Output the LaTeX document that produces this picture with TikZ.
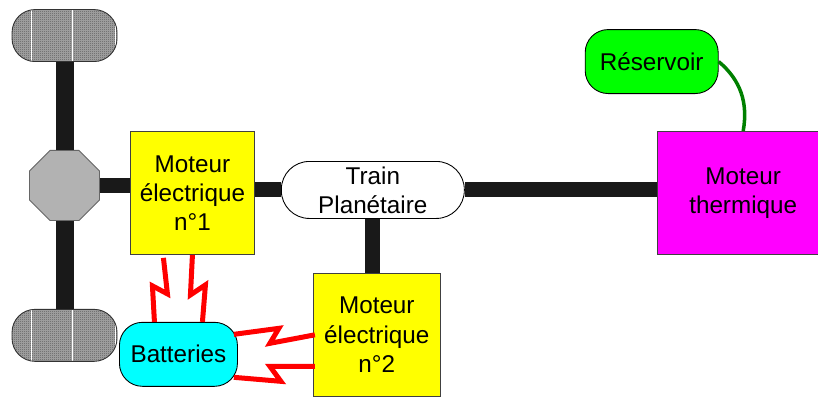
\documentclass[tikz,border=0pt]{standalone}
\usepackage{fontspec}
\setmainfont{Liberation Sans}
\usepackage{tikz}
\usetikzlibrary{shapes.geometric, positioning, patterns}
\definecolor{pureyellow}{RGB}{255,255,0}
\definecolor{puremagenta}{RGB}{255,0,255}
\definecolor{purecyan}{RGB}{0,255,255}
\definecolor{puregreen}{RGB}{0,255,0}
\definecolor{purered}{RGB}{255,0,0}
\definecolor{fuelgreen}{RGB}{0,128,0}

\pgfdeclarepatternformonly{fine checker}{\pgfqpoint{0pt}{0pt}}{\pgfqpoint{1.14pt}{1.14pt}}{\pgfqpoint{1.14pt}{1.14pt}}{
  \pgfpathrectangle{\pgfqpoint{0pt}{0pt}}{\pgfqpoint{0.57pt}{0.57pt}}
  \pgfpathrectangle{\pgfqpoint{0.57pt}{0.57pt}}{\pgfqpoint{0.57pt}{0.57pt}}
  \pgfusepath{fill}
}

\begin{document}
\begin{tikzpicture}[
        boxtext/.style={font=\fontsize{13.8}{16.6}\selectfont, align=center, inner sep=0pt},
        motor/.style={rectangle, draw=black!75, line width=0.5pt, fill=pureyellow, minimum width=2.48cm, minimum height=2.46cm, boxtext},
        thermal/.style={motor, fill=puremagenta, minimum width=3.22cm},
        tank/.style={rectangle, draw=black, line width=0.5pt, rounded corners=0.46cm, boxtext},
        gear/.style={tank, fill=white, rounded corners=0.56cm, minimum width=3.66cm, minimum height=1.14cm},
        wheel/.style={rectangle, draw=black!80, line width=0.5pt, rounded corners=0.46cm, minimum width=2.1cm, minimum height=1.04cm,
            preaction={fill=black!35}, pattern=fine checker, pattern color=black!65,
            path picture={
                \foreach \wx in {-0.67, 0.15, 1.01}
                    \draw [white, line width=0.6pt] ([xshift=\wx cm]path picture bounding box.north) -- ([xshift=\wx cm]path picture bounding box.south);
            }},
        diff/.style={regular polygon, regular polygon sides=8, draw=black!60, line width=0.5pt, fill=black!30, minimum size=1.516cm, inner sep=0pt},
        shaft/.style={line width=0.36cm, color=black!90},
        thinshaft/.style={line width=0.3cm, color=black!90},
        elec/.style={purered, line width=0.1cm},
        fuel/.style={fuelgreen, line width=0.07cm}
    ]

        \useasboundingbox (0,0) rectangle (16.36,-7.96);

        \node [motor, anchor=north west] (moteur1) at (2.6,-2.62) {Moteur\\électrique\\n°1};
        \node [diff, left=0.6cm of moteur1, yshift=0.15cm] (differentiel) {};
        \node [wheel, above=1.76cm of differentiel] (roue1) {};
        \node [wheel, below=1.76cm of differentiel] (roue2) {};
        \node [gear, right=0.52cm of moteur1, yshift=0.06cm] (train) {Train\\Planétaire};
        \node [motor, minimum width=2.54cm, below=1.08cm of train, xshift=0.08cm] (moteur2) {Moteur\\électrique\\n°2};
        \node [thermal, right=3.84cm of train, yshift=-0.06cm] (thermique) {\hspace*{0.22cm}Moteur\\\hspace*{0.22cm}thermique};
        \node [tank, fill=puregreen, minimum width=2.66cm, minimum height=1.28cm, above=0.74cm of thermique, xshift=-1.72cm] (reservoir) {Réservoir};
        \node [tank, fill=purecyan, minimum width=2.36cm, minimum height=1.28cm, below=1.34cm of moteur1, xshift=-0.28cm] (batteries) {Batteries};

        \draw [shaft] (roue1) -- (differentiel);
        \draw [shaft] (differentiel) -- (roue2);
        \draw [thinshaft] (differentiel.east) -- (differentiel.east -| moteur1.west);
        \draw [thinshaft] (moteur1.east |- train.west) -- (train.west);
        \draw [thinshaft] (train.east) -- (train.east -| thermique.west);
        \draw [thinshaft] (train.south) -- (train.south |- moteur2.north);

        \draw [elec] ([xshift=-0.58cm,yshift=-0.06cm]moteur1.south) -- ++(0.08,-0.72) -- ++(-0.3,0.16) -- ([xshift=-0.48cm]batteries.north);
        \draw [elec] (moteur1.south) -- ++(-0.04,-0.8) -- ++(0.3,0.2) -- ([xshift=0.48cm]batteries.north);
        \draw [elec] ([shift={(-0.08,0.4)}]batteries.east) -- ++(0.9,0.12) -- ++(-0.18,-0.3) -- ([xshift=0.04cm]moteur2.west);
        \draw [elec] ([shift={(-0.08,-0.46)}]batteries.east) -- ++(0.94,-0.08) -- ++(-0.22,0.3) -- ([shift={(0.04,-0.63)}]moteur2.west);

        \draw [fuel] (reservoir.east) to[out=-40,in=80] ([xshift=0.11cm]thermique.north);
\end{tikzpicture}
\end{document}
